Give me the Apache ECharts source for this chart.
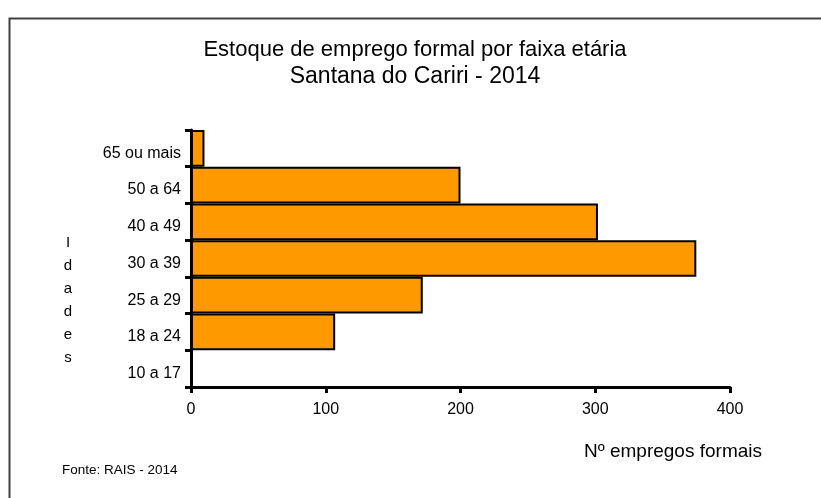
<!DOCTYPE html>
<html>
<head>
<meta charset="utf-8">
<script src="https://cdn.jsdelivr.net/npm/echarts@6/dist/echarts.min.js"></script>
<style>
html,body{margin:0;padding:0;background:#fff;}
#c{width:821px;height:498px;}
</style>
</head>
<body>
<div id="c"></div>
<script>
const categories = ['10 a 17', '18 a 24', '25 a 29', '30 a 39', '40 a 49', '50 a 64', '65 ou mais'];
const values = [0, 107, 172, 375, 302, 200, 10];
const xTicks = [0, 100, 200, 300, 400];
const titleLines = ['Estoque de emprego formal por faixa etária', 'Santana do Cariri - 2014'];
const yAxisName = 'Idades';
const xAxisName = 'Nº empregos formais';
const sourceText = 'Fonte: RAIS - 2014';

const FONT = '"Liberation Sans", Arial, sans-serif';
const chart = echarts.init(document.getElementById('c'), null, {renderer: 'canvas'});
chart.setOption({
  backgroundColor: '#fff',
  animation: false,
  grid: {left: 191, right: 91, top: 130, bottom: 111, containLabel: false},
  xAxis: {
    type: 'value', min: xTicks[0], max: xTicks[xTicks.length - 1], interval: 100,
    axisLine: {show: true, lineStyle: {color: '#000', width: 3}},
    axisTick: {show: true, length: 6, lineStyle: {color: '#000', width: 3}},
    axisLabel: {fontFamily: FONT, fontSize: 16, color: '#000', margin: 15},
    splitLine: {show: false}
  },
  yAxis: {
    type: 'category', data: categories,
    axisLine: {show: true, lineStyle: {color: '#000', width: 3}},
    axisTick: {show: true, length: 6, lineStyle: {color: '#000', width: 3}},
    axisLabel: {fontFamily: FONT, fontSize: 16, color: '#000', margin: 10, verticalAlign: 'top', lineHeight: 10},
    splitLine: {show: false}
  },
  series: [{
    type: 'bar', data: values, barCategoryGap: '0%',
    itemStyle: {color: '#FF9900', borderColor: '#000', borderWidth: 2},
    z: 1
  }],
  graphic: [
    {type: 'rect', shape: {x: 9.5, y: 18.5, width: 830, height: 500}, style: {fill: 'none', stroke: '#404040', lineWidth: 2}, silent: true},
    {type: 'text', x: 415, y: 50, style: {text: titleLines[0], font: '22px ' + FONT, fill: '#000', align: 'center', verticalAlign: 'middle'}},
    {type: 'text', x: 415, y: 77, style: {text: titleLines[1], font: '23px ' + FONT, fill: '#000', align: 'center', verticalAlign: 'middle'}},
    {type: 'text', x: 68, y: 231, style: {text: yAxisName.split('').join('\n'), font: '15px ' + FONT, fill: '#000', lineHeight: 23, align: 'center'}},
    {type: 'text', x: 584, y: 452, style: {text: xAxisName, font: '19px ' + FONT, fill: '#000', verticalAlign: 'middle'}},
    {type: 'text', x: 62, y: 470, style: {text: sourceText, font: '13.5px ' + FONT, fill: '#000', verticalAlign: 'middle'}}
  ]
});
</script>
</body>
</html>
